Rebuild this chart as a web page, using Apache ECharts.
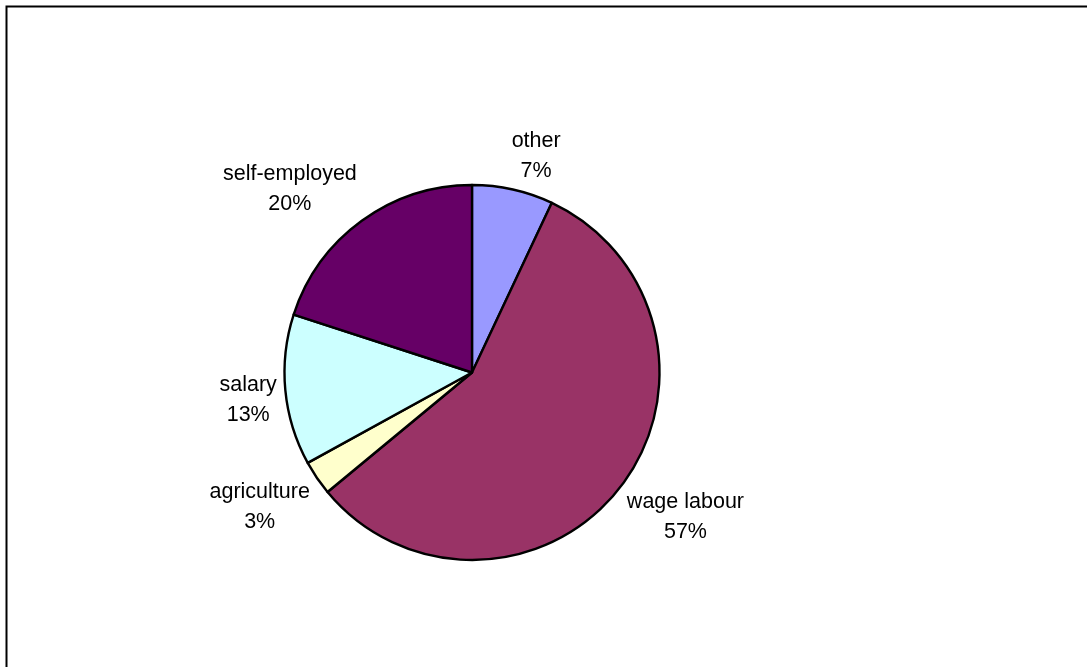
<!DOCTYPE html>
<html>
<head>
<meta charset="utf-8">
<title>Income sources</title>
<script src="https://cdn.jsdelivr.net/npm/echarts@6/dist/echarts.min.js"></script>
<style>
  html, body { margin: 0; padding: 0; background: #ffffff; }
  #chart { width: 1087px; height: 667px; }
</style>
</head>
<body>
<div id="chart"></div>
<script>
// Income source shares, in percent, clockwise from twelve o'clock
const categories = ['other', 'wage labour', 'agriculture', 'salary', 'self-employed'];
const shares = [7, 57, 3, 13, 20];
const sliceColors = ['#9999FF', '#993366', '#FFFFCC', '#CCFFFF', '#660066'];

// Pie geometry (pixels)
const CX = 472, CY = 372.5, R = 187.5;
const LABEL_GAP = 8.5;
const FONT_SIZE = 21.5;
const LINE_HEIGHT = 30;

// Mid-angle of every slice, radians clockwise from the top
const total = shares.reduce((a, b) => a + b, 0);
const midAngles = [];
(function () {
  let acc = 0;
  shares.forEach(v => {
    midAngles.push((acc + v / 2) / total * Math.PI * 2);
    acc += v;
  });
})();

const chart = echarts.init(document.getElementById('chart'), null, { renderer: 'canvas' });

chart.setOption({
  animation: false,
  backgroundColor: '#ffffff',
  graphic: [{
    type: 'rect',
    shape: { x: 6.5, y: 6.5, width: 1200, height: 800 },
    style: { fill: 'none', stroke: '#000000', lineWidth: 2 },
    silent: true
  }],
  series: [{
    type: 'pie',
    center: [CX, CY],
    radius: [0, R],
    startAngle: 90,
    clockwise: true,
    avoidLabelOverlap: false,
    percentPrecision: 0,
    emphasis: { disabled: true },
    itemStyle: { borderColor: '#000000', borderWidth: 2.4 },
    label: {
      show: true,
      position: 'outside',
      formatter: '{b}\n{d}%',
      color: '#000000',
      fontFamily: '"Liberation Sans", Arial, sans-serif',
      fontSize: FONT_SIZE,
      lineHeight: LINE_HEIGHT,
      align: 'center'
    },
    labelLine: { show: false },
    // Anchor the label so that the edge of its inked text nearest the pie
    // sits on the slice's mid-angle ray, just outside the rim.
    labelLayout: function (params) {
      const a = midAngles[params.dataIndex];
      const dx = Math.sin(a), dy = -Math.cos(a);
      const w = params.labelRect.width;
      const h = params.labelRect.height - (LINE_HEIGHT - FONT_SIZE) - 2;
      const ax = CX + dx * (R + LABEL_GAP);
      const ay = CY + dy * (R + LABEL_GAP);
      const k = 4;
      const ox = Math.sign(dx) * Math.min(1, Math.abs(dx) * k) * w / 2;
      const oy = Math.sign(dy) * Math.min(1, Math.abs(dy) * k) * h / 2;
      return { x: ax + ox, y: ay + oy, align: 'center', verticalAlign: 'middle' };
    },
    data: categories.map((name, i) => ({
      name: name,
      value: shares[i],
      itemStyle: { color: sliceColors[i] }
    }))
  }]
});
</script>
</body>
</html>
